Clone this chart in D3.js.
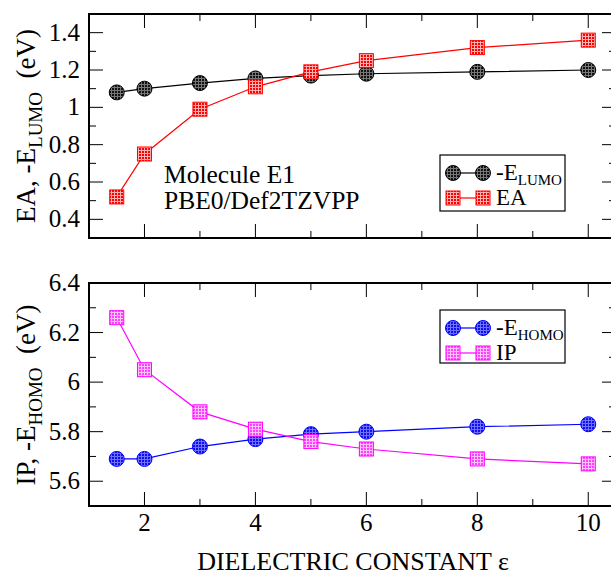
<!DOCTYPE html>
<html>
<head>
<meta charset="utf-8">
<script src="https://cdn.jsdelivr.net/npm/d3@7"></script>
<style>
  body { margin: 0; background: #fff; }
  svg text { font-family: 'Times New Roman', 'Liberation Serif', Times, serif; }
</style>
</head>
<body>
<svg id="chart" width="611" height="576"></svg>
<script>
// data
const eps = [1.5, 2, 3, 4, 5, 6, 8, 10]
const lumo = [1.08, 1.10, 1.13, 1.155, 1.17, 1.18, 1.19, 1.20]
const ea = [0.52, 0.75, 0.99, 1.11, 1.19, 1.25, 1.32, 1.36]
const homo = [5.69, 5.69, 5.74, 5.77, 5.79, 5.80, 5.82, 5.83]
const ip = [6.26, 6.05, 5.88, 5.81, 5.76, 5.73, 5.69, 5.67]

const xTicks = [2, 4, 6, 8, 10]
const topTicks = [0.4, 0.6, 0.8, 1, 1.2, 1.4]
const botTicks = [5.6, 5.8, 6, 6.2, 6.4]
const note = ['Molecule E1', 'PBE0/Def2TZVPP']

const svg = d3.select('#chart')
const left = 89
const right = 616

const x = d3.scaleLinear().domain([1, 10.5]).range([left, right])

// fill patterns that look like the grace hatching
const defs = svg.append('defs')
function pattern (id, base, line) {
  const p = defs.append('pattern')
    .attr('id', id)
    .attr('width', 3)
    .attr('height', 3)
    .attr('patternUnits', 'userSpaceOnUse')
  p.append('rect').attr('width', 3).attr('height', 3).attr('fill', base)
  p.append('rect').attr('width', 3).attr('height', 1).attr('fill', line)
  p.append('rect').attr('width', 1).attr('height', 3).attr('fill', line)
}
pattern('pBlack', '#111', '#777')
pattern('pRed', '#ff0000', '#ffb0b0')
pattern('pBlue', '#1010ee', '#7070ff')
pattern('pMag', '#ff40ff', '#ffc0ff')

function panel (top, bottom, domain, ticks, fmt) {
  const y = d3.scaleLinear().domain(domain).range([bottom, top])
  const g = svg.append('g')

  const minorX = d3.range(1, 11)
  const minorY = d3.range(domain[0], domain[1] + 1e-9, 0.1)

  // ticks on all four sides, pointing in
  g.selectAll('.xt').data(minorX).join('line')
    .attr('x1', d => x(d)).attr('x2', d => x(d))
    .attr('y1', bottom).attr('y2', d => bottom - (d % 2 === 0 ? 14 : 7))
    .attr('stroke', '#000')
  g.selectAll('.xt2').data(minorX).join('line')
    .attr('x1', d => x(d)).attr('x2', d => x(d))
    .attr('y1', top).attr('y2', d => top + (d % 2 === 0 ? 14 : 7))
    .attr('stroke', '#000')
  const isMajor = d => ticks.some(t => Math.abs(t - d) < 1e-6)
  g.selectAll('.yt').data(minorY).join('line')
    .attr('x1', left).attr('x2', d => left + (isMajor(d) ? 14 : 7))
    .attr('y1', d => y(d)).attr('y2', d => y(d))
    .attr('stroke', '#000')
  g.selectAll('.yt2').data(minorY).join('line')
    .attr('x1', right).attr('x2', d => right - (isMajor(d) ? 14 : 7))
    .attr('y1', d => y(d)).attr('y2', d => y(d))
    .attr('stroke', '#000')

  g.append('rect')
    .attr('x', left).attr('y', top)
    .attr('width', right - left).attr('height', bottom - top)
    .attr('fill', 'none').attr('stroke', '#000').attr('stroke-width', 2)

  g.selectAll('.yl').data(ticks).join('text')
    .attr('x', left - 9).attr('y', d => y(d) + 8)
    .attr('text-anchor', 'end')
    .attr('font-size', 25)
    .text(fmt)

  return y
}

function series (y, vals, color, shape, fill) {
  const line = d3.line().x((d, i) => x(eps[i])).y(d => y(d))
  svg.append('path')
    .attr('d', line(vals))
    .attr('fill', 'none')
    .attr('stroke', color)
    .attr('stroke-width', 1.2)
  drawMarkers(svg, vals.map((v, i) => [x(eps[i]), y(v)]), color, shape, fill)
}

function drawMarkers (g, pts, color, shape, fill) {
  if (shape === 'circle') {
    g.selectAll(null).data(pts).join('circle')
      .attr('cx', d => d[0]).attr('cy', d => d[1]).attr('r', 7.5)
      .attr('fill', fill).attr('stroke', color).attr('stroke-width', 1)
  } else {
    g.selectAll(null).data(pts).join('rect')
      .attr('x', d => d[0] - 7).attr('y', d => d[1] - 7)
      .attr('width', 14).attr('height', 14)
      .attr('fill', fill).attr('stroke', color).attr('stroke-width', 1)
  }
}

const fmt = d => d3.format('~g')(d)
const yTop = panel(14, 238, [0.3, 1.5], topTicks, fmt)
const yBot = panel(283, 506, [5.5, 6.4], botTicks, fmt)

svg.selectAll('.xl').data(xTicks).join('text')
  .attr('x', d => x(d)).attr('y', 531)
  .attr('text-anchor', 'middle')
  .attr('font-size', 25)
  .text(d => d)

series(yTop, lumo, '#000', 'circle', 'url(#pBlack)')
series(yTop, ea, '#ff0000', 'square', 'url(#pRed)')
series(yBot, homo, '#0000ff', 'circle', 'url(#pBlue)')
series(yBot, ip, '#ff00ff', 'square', 'url(#pMag)')

// annotation, two lines in one text block
svg.append('text')
  .attr('x', 164).attr('y', 183)
  .attr('font-size', 25.5)
  .selectAll('tspan').data(note).join('tspan')
  .attr('x', 164)
  .attr('dy', (d, i) => i ? 26 : 0)
  .text(d => d)

// legends
function legend (x0, y0, w, h, items) {
  const g = svg.append('g')
  g.append('rect').attr('x', x0).attr('y', y0).attr('width', w).attr('height', h)
    .attr('fill', '#fff').attr('stroke', '#000').attr('stroke-width', 1.2)
  items.forEach((it, i) => {
    const cy = y0 + 18 + i * 25
    g.append('line').attr('x1', x0 + 13).attr('x2', x0 + 43)
      .attr('y1', cy).attr('y2', cy).attr('stroke', it.color).attr('stroke-width', 1.2)
    drawMarkers(g, [[x0 + 13, cy], [x0 + 43, cy]], it.color, it.shape, it.fill)
    const t = g.append('text').attr('x', x0 + 56).attr('y', cy + 7).attr('font-size', 23)
    t.append('tspan').text(it.label)
    if (it.sub) t.append('tspan').attr('font-size', 15).attr('dy', 5).text(it.sub)
  })
}
legend(440, 155, 125, 56, [
  { label: '-E', sub: 'LUMO', color: '#000', shape: 'circle', fill: 'url(#pBlack)' },
  { label: 'EA', color: '#ff0000', shape: 'square', fill: 'url(#pRed)' }
])
legend(440, 310, 125, 53, [
  { label: '-E', sub: 'HOMO', color: '#0000ff', shape: 'circle', fill: 'url(#pBlue)' },
  { label: 'IP', color: '#ff00ff', shape: 'square', fill: 'url(#pMag)' }
])

// axis titles
function yTitle (cy, main, sub) {
  const t = svg.append('text')
    .attr('transform', `translate(35,${cy}) rotate(-90)`)
    .attr('text-anchor', 'middle')
    .attr('font-size', 27)
  t.append('tspan').text(main)
  t.append('tspan').attr('font-size', 19).attr('dy', 7).text(sub)
  t.append('tspan').attr('dy', -7).text('\u00a0 (eV)')
}
yTitle(126, 'EA, -E', 'LUMO')
yTitle(395, 'IP, -E', 'HOMO')

svg.append('text')
  .attr('x', 353).attr('y', 570)
  .attr('text-anchor', 'middle')
  .attr('font-size', 26)
  .text('DIELECTRIC CONSTANT \u03b5')
</script>
</body>
</html>
